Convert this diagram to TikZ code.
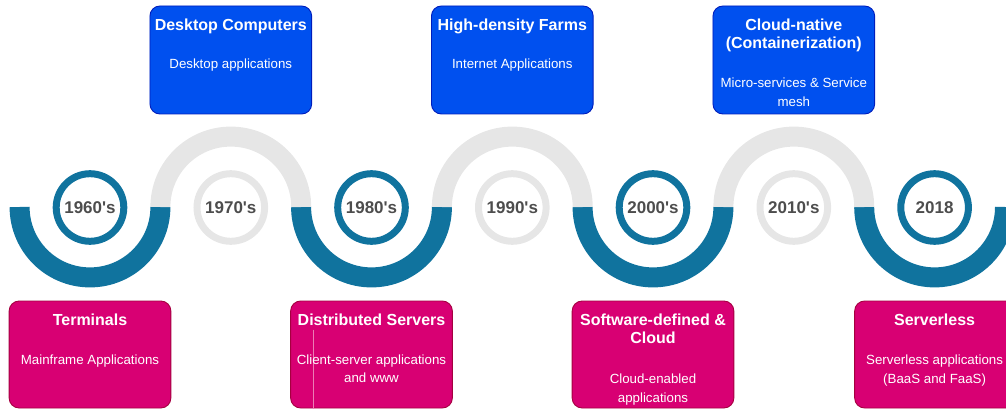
\documentclass[tikz,border=0pt]{standalone}
\usepackage{fontspec}
\setmainfont{Liberation Sans}[Ligatures=TeXOff]
\definecolor{tealblue}{HTML}{10739E}
\definecolor{lgray}{HTML}{E6E6E6}
\definecolor{magfill}{HTML}{D80073}
\definecolor{magline}{HTML}{A50040}
\definecolor{magthin}{HTML}{EC7DB4}
\definecolor{bluefill}{HTML}{0050EF}
\definecolor{blueline}{HTML}{001DBC}
\definecolor{yeartext}{HTML}{4D4D4D}
\tikzset{
  bluearc/.style={draw=tealblue, line width=20pt},
  grayarc/.style={draw=lgray, line width=20pt},
  yearring/.style={circle, draw=#1, line width=7pt, minimum size=67.6pt, inner sep=0pt,
    text=yeartext, font=\bfseries\fontsize{17}{20}\selectfont},
  topbox/.style={draw=blueline, fill=bluefill, line width=0.9pt, rounded corners=10pt,
    minimum width=161.7pt, minimum height=108pt, inner sep=0pt},
  botbox/.style={draw=magline, fill=magfill, line width=0.9pt, rounded corners=10pt,
    minimum width=161.7pt, minimum height=107pt, inner sep=0pt},
  ttl/.style={anchor=base, inner sep=0pt, text=white, font=\bfseries\fontsize{16}{18}\selectfont},
  sub/.style={anchor=base, inner sep=0pt, text=white, font=\fontsize{13.3}{16}\selectfont},
}
\begin{document}
\begin{tikzpicture}[x=1pt,y=-1pt]
\useasboundingbox (0,0) rectangle (1006,409);
\clip (0,0) rectangle (1006,409);
% wave
\def\R{70.4}
\foreach \i/\c in {0/90,2/371.5,4/653,6/934.6}{
  \draw[bluearc] (\c-\R,207) arc (180:0:\R);
}
\foreach \i/\c in {1/230.8,3/512.3,5/793.8}{
  \draw[grayarc] (\c-\R,207) arc (180:360:\R);
}
% year rings
\node[yearring=tealblue] (y1960) at (90,207.5) {1960's};
\node[yearring=lgray] (y1970) at (230.8,207.5) {1970's};
\node[yearring=tealblue] (y1980) at (371.5,207.5) {1980's};
\node[yearring=lgray] (y1990) at (512.3,207.5) {1990's};
\node[yearring=tealblue] (y2000) at (653,207.5) {2000's};
\node[yearring=lgray] (y2010) at (793.8,207.5) {2010's};
\node[yearring=tealblue] (y2018) at (934.6,207.5) {2018};
% top boxes
\node[topbox] (bDesk) at (230.8,60) {};
\node[ttl] (tDesk) at (230.8,30.6) {Desktop Computers};
\node[sub] (sDesk) at (230.8,68.3) {Desktop applications};
\node[topbox] (bFarm) at (512.3,60) {};
\node[ttl] (tFarm) at (512.3,30.6) {High-density Farms};
\node[sub] (sFarm) at (512.3,68.3) {Internet Applications};
\node[topbox] (bCloudN) at (793.8,60) {};
\node[ttl] (tCloudNa) at (793.8,30.4) {Cloud-native};
\node[ttl] (tCloudNb) at (793.8,48.6) {(Containerization)};
\node[sub] (sCloudNa) at (793.8,87.5) {Micro-services \& Service};
\node[sub] (sCloudNb) at (793.8,107) {mesh};
% bottom boxes
\node[botbox] (bTerm) at (90,354.5) {};
\node[ttl] (tTerm) at (90,325.2) {Terminals};
\node[sub] (sTerm) at (90,364) {Mainframe Applications};
\node[botbox] (bDist) at (371.5,354.5) {};
\draw[magthin, line width=0.8pt] ([xshift=23pt,yshift=-29pt]bDist.north west) -- ([xshift=23pt,yshift=-1pt]bDist.south west);
\node[ttl] (tDist) at (371.5,325.2) {Distributed Servers};
\node[sub] (sDista) at (371.5,364) {Client-server applications};
\node[sub] (sDistb) at (371.5,382.8) {and www};
\node[botbox] (bSoft) at (653,354.5) {};
\node[ttl] (tSofta) at (653,325.2) {Software-defined \&};
\node[ttl] (tSoftb) at (653,343.6) {Cloud};
\node[sub] (sSofta) at (653,383.3) {Cloud-enabled};
\node[sub] (sSoftb) at (653,402.3) {applications};
\node[botbox] (bServ) at (935.5,354.5) {};
\node[ttl] (tServ) at (934.6,325.2) {Serverless};
\node[sub] (sServa) at (934.6,364) {Serverless applications};
\node[sub] (sServb) at (934.6,383.3) {(BaaS and FaaS)};
\end{tikzpicture}
\end{document}
